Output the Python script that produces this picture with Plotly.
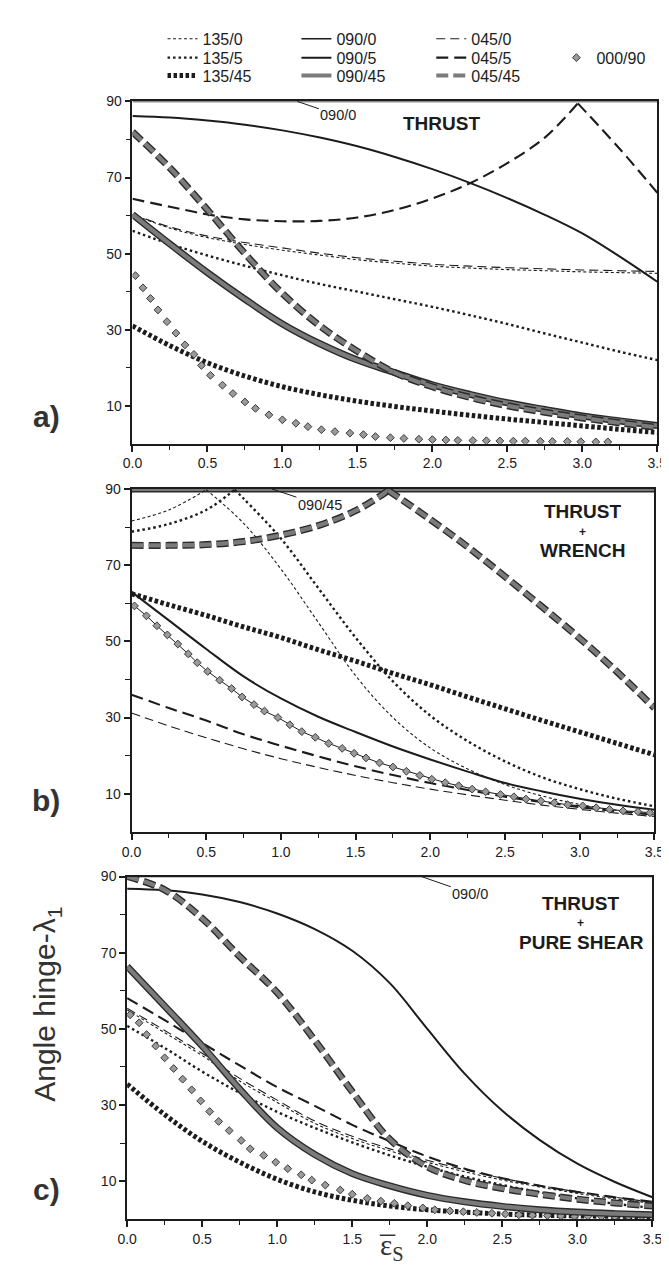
import plotly.graph_objects as go

W, H = 669, 1265
DARK = '#1c1c1c'
GRAY = '#7b7b7b'
FONT = 'Liberation Sans, Arial, sans-serif'

# ---------------- data ----------------
X = [0.0, 0.25, 0.5, 0.75, 1.0, 1.25, 1.5, 1.75, 2.0, 2.25, 2.5, 2.75, 3.0, 3.25, 3.5]
X_ENDS = [0.0, 3.5]
TOP = [90, 90]

# panel a) THRUST
A_135_0 = [60.3, 56.7, 54.2, 52.4, 50.9, 49.6, 48.4, 47.5, 46.7, 46.2, 45.8, 45.5, 45.2, 45.0, 44.8]
A_135_5 = [56, 52.5, 49.5, 46.8, 44.3, 42, 40, 38, 36, 33.8, 31.5, 29, 26.6, 24.2, 22]
A_135_45 = [31, 25.8, 21.3, 17.8, 15, 12.9, 11.2, 9.8, 8.6, 7.5, 6.5, 5.6, 4.7, 3.8, 3.0]
A_090_5 = [86.2, 85.8, 85, 83.9, 82.4, 80.5, 78.2, 75.4, 72.2, 68.6, 64.6, 60.2, 55.3, 49.2, 42.6]
A_090_45 = [60.3, 52.5, 45, 38, 31.5, 26.3, 22, 18.7, 15.5, 13, 10.8, 9, 7.3, 6, 4.8]
A_045_0 = [60.3, 57, 54.6, 52.9, 51.5, 50.1, 48.9, 48, 47.2, 46.7, 46.3, 46, 45.7, 45.5, 45.3]
A_045_5_X = [0.0, 0.25, 0.5, 0.75, 1.0, 1.25, 1.5, 1.75, 2.0, 2.25, 2.5, 2.75, 2.97, 3.25, 3.5]
A_045_5 = [64.4, 62.3, 60.3, 59, 58.5, 58.6, 59.5, 61.5, 64.5, 68.5, 73.8, 80.5, 89.5, 77.5, 66]
A_045_5_PEAK = 12
A_045_45 = [82, 72.5, 61.5, 50, 39.5, 31, 24.3, 18.7, 15, 12.2, 10, 8.3, 6.8, 5.5, 4.3]
A_000_90_X = [0.02, 0.07, 0.12, 0.17, 0.23, 0.29, 0.35, 0.41, 0.46, 0.52, 0.6, 0.67, 0.75, 0.82,
              0.91, 1.0, 1.09, 1.17, 1.26, 1.35, 1.45, 1.54, 1.62, 1.72, 1.81, 1.91, 2.0, 2.09,
              2.17, 2.27, 2.36, 2.45, 2.54, 2.62, 2.72, 2.8, 2.9, 2.99, 3.09, 3.17]
A_000_90_Y = [44.2, 41, 38.2, 35.2, 32.1, 29.1, 26, 23.5, 20.6, 18, 15.4, 13.2, 11, 9.3,
              7.6, 6.3, 5.4, 4.5, 3.7, 3.2, 2.8, 2.4, 1.9, 1.6, 1.4, 1.2, 1.1, 1.0,
              0.9, 0.85, 0.8, 0.75, 0.7, 0.7, 0.65, 0.6, 0.6, 0.55, 0.5, 0.5]

# panel b) THRUST + WRENCH
B_135_0 = [81.6, 84.5, 89.8, 81, 69, 55, 41, 30, 22, 16.5, 12.4, 9.4, 7.2, 5.6, 4.4]
B_135_0_PEAK = 2
B_135_5_X = [0.0, 0.25, 0.5, 0.69, 0.75, 1.0, 1.25, 1.5, 1.75, 2.0, 2.25, 2.5, 2.75, 3.0, 3.25, 3.5]
B_135_5 = [78.8, 80.8, 84.5, 89.8, 87.5, 77, 64, 51, 39.5, 30.5, 23.8, 18.5, 14.3, 11.2, 8.7, 6.7]
B_135_5_PEAK = 3
B_135_45 = [62.5, 59.6, 56.8, 53.8, 51, 47.8, 44.8, 41.6, 38.6, 35.4, 32.3, 29.2, 26.2, 23.2, 20.2]
B_090_5 = [63, 55.5, 48, 40.8, 35, 30.2, 26.2, 22.4, 19, 15.8, 12.8, 10.6, 8.7, 7.1, 5.8]
B_045_0 = [31.2, 27.8, 24.7, 21.8, 19.2, 16.9, 14.8, 12.9, 11.2, 9.7, 8.3, 7.0, 5.9, 4.9, 4.0]
B_045_5 = [36, 32.5, 29.2, 25.6, 22.6, 19.8, 17.2, 14.9, 12.8, 11, 9.2, 7.8, 6.5, 5.4, 4.5]
B_045_45_X = [0.0, 0.25, 0.5, 0.75, 1.0, 1.25, 1.5, 1.72, 2.0, 2.25, 2.5, 2.75, 3.0, 3.25, 3.5]
B_045_45 = [75.2, 75.2, 75.4, 76.2, 77.9, 80.4, 84.3, 89.6, 82, 74.8, 67, 59, 50.8, 42, 32.5]
B_045_45_PEAK = 7
B_000_90_X = [0.02, 0.1, 0.17, 0.24, 0.31, 0.38, 0.44, 0.51, 0.59, 0.67, 0.74, 0.82, 0.89, 0.98,
              1.06, 1.14, 1.23, 1.32, 1.41, 1.49, 1.57, 1.66, 1.75, 1.84, 1.93, 2.01, 2.1, 2.19,
              2.28, 2.37, 2.47, 2.56, 2.64, 2.74, 2.83, 2.92, 3.02, 3.11, 3.2, 3.29, 3.39, 3.47]
B_000_90_Y = [59.3, 56.7, 54.1, 51.7, 49.3, 46.7, 44.4, 42.1, 39.8, 37.6, 35.4, 33.4, 31.7, 30,
              28.1, 26.3, 24.8, 23.2, 21.9, 20.6, 19.4, 18.1, 17, 15.9, 14.8, 13.8, 12.9, 12.1,
              11.2, 10.5, 9.8, 9.2, 8.6, 8.1, 7.6, 7.1, 6.8, 6.3, 5.9, 5.5, 5.3, 5.0]

# panel c) THRUST + PURE SHEAR
C_135_0 = [55, 49, 43, 36.3, 30.7, 25.2, 21.2, 18, 15, 12.5, 10.3, 8.5, 6.8, 5.4, 4.2]
C_135_5 = [50.8, 45, 38.8, 33.2, 28.2, 24, 20.2, 16.8, 13.8, 11.2, 9, 7.1, 5.5, 4.1, 3.0]
C_135_45 = [35.5, 27.5, 20.5, 15, 10.5, 7.2, 5.0, 3.5, 2.5, 1.9, 1.4, 1.1, 0.9, 0.8, 0.7]
C_090_5 = [86.8, 86.4, 85.3, 83.3, 80.3, 76.2, 70.5, 62, 50, 38.2, 28.5, 20.8, 14.6, 9.8, 5.8]
C_090_45 = [66.4, 56, 45.5, 34.2, 24, 17, 12, 8.8, 6.3, 4.6, 3.4, 2.5, 1.9, 1.5, 1.2]
C_045_0 = [55.4, 49.6, 43.6, 37, 31.3, 25.8, 21.8, 18.5, 15.5, 13, 10.8, 8.9, 7.2, 5.8, 4.5]
C_045_5 = [58.1, 52.3, 46.3, 40.4, 34.7, 29.8, 24.8, 20.5, 16.5, 13.3, 10.8, 8.8, 7.2, 5.8, 4.6]
C_045_45 = [90, 86.5, 79, 69, 59.5, 47, 33.5, 21, 13.8, 10.2, 8.1, 6.6, 5.3, 4.3, 3.5]
C_000_90_X = [0.02, 0.08, 0.13, 0.19, 0.25, 0.31, 0.37, 0.43, 0.49, 0.55, 0.61, 0.68, 0.76, 0.82,
              0.91, 0.99, 1.07, 1.16, 1.23, 1.32, 1.42, 1.5, 1.6, 1.69, 1.78, 1.87, 1.97, 2.05,
              2.15, 2.24, 2.33, 2.43, 2.52, 2.61, 2.7, 2.8, 2.89, 2.98, 3.07, 3.16, 3.25, 3.34, 3.43]
C_000_90_Y = [53.7, 51.6, 48.5, 45.5, 42.4, 39.6, 36.8, 34, 31.1, 28.3, 25.7, 23.3, 20.7, 18.5,
              16.8, 15, 13.3, 11.7, 10.3, 9, 7.7, 6.6, 5.5, 4.8, 4.2, 3.6, 3.0, 2.5,
              2.2, 2.0, 1.8, 1.6, 1.4, 1.2, 1.1, 1.0, 0.9, 0.8, 0.8, 0.7, 0.7, 0.7, 0.7]

X_TICKS = [0.0, 0.5, 1.0, 1.5, 2.0, 2.5, 3.0, 3.5]
Y_TICKS = [10, 30, 50, 70, 90]
Y_MINOR = [20, 40, 60, 80]

# ---------------- styles ----------------
LINE = {
    '135/0': dict(color=DARK, width=1.1, dash='3px,2.5px'),
    '135/5': dict(color=DARK, width=2.4, dash='2.5px,3px'),
    '135/45': dict(color=DARK, width=5, dash='3.5px,2.5px'),
    '090/0': dict(color=DARK, width=1.4, dash='solid'),
    '090/5': dict(color=DARK, width=2.0, dash='solid'),
    '045/0': dict(color=DARK, width=1.1, dash='9px,5px'),
    '045/5': dict(color=DARK, width=2.1, dash='12px,6px'),
}
GRAY_DASH = {'090/45': 'solid', '045/45': '12px,5px'}
LEGEND_OF = {'135/0': 'legend', '135/5': 'legend2', '135/45': 'legend3',
             '090/0': 'legend4', '090/5': 'legend5', '090/45': 'legend6',
             '045/0': 'legend7', '045/5': 'legend8', '045/45': 'legend9',
             '000/90': 'legend10'}
LEGEND_CELL = {'135/0': (0, 0), '135/5': (0, 1), '135/45': (0, 2),
               '090/0': (1, 0), '090/5': (1, 1), '090/45': (1, 2),
               '045/0': (2, 0), '045/5': (2, 1), '045/45': (2, 2),
               '000/90': (3, 1)}
COL_TEXT_PX = [202, 340, 479, 608]
ROW_PX = [23, 42, 60]
AXES = {'a': ('x', 'y'), 'b': ('x2', 'y2'), 'c': ('x3', 'y3')}

fig = go.Figure()


def add_series(panel, name, xs, ys, legend_entry):
    xa, ya = AXES[panel]
    common = dict(x=xs, y=ys, mode='lines', xaxis=xa, yaxis=ya, legendgroup=name,
                  line_shape='spline', hoverinfo='skip')
    if name in GRAY_DASH:
        dash = GRAY_DASH[name]
        fig.add_trace(go.Scatter(**common, line=dict(color='#2b2b2b', width=7, dash=dash),
                                 showlegend=False))
        fig.add_trace(go.Scatter(**common, line=dict(color=GRAY, width=4.2, dash=dash),
                                 name=name, showlegend=legend_entry, legend=LEGEND_OF[name]))
    else:
        fig.add_trace(go.Scatter(**common, line=LINE[name], name=name,
                                 showlegend=legend_entry, legend=LEGEND_OF[name]))


def add_peaked(panel, name, xs, ys, k, legend_entry):
    add_series(panel, name, xs[:k + 1], ys[:k + 1], legend_entry)
    add_series(panel, name, xs[k:], ys[k:], False)


def add_markers(panel, xs, ys, with_line, legend_entry):
    xa, ya = AXES[panel]
    fig.add_trace(go.Scatter(
        x=xs, y=ys, mode='lines+markers' if with_line else 'markers', xaxis=xa, yaxis=ya,
        marker=dict(symbol='diamond', size=6, color='#9a9a9a', line=dict(color='#3a3a3a', width=1)),
        line=dict(color=DARK, width=1), name='000/90', legendgroup='000/90',
        showlegend=legend_entry, legend=LEGEND_OF['000/90'], hoverinfo='skip'))


# panel a
add_series('a', '090/0', X_ENDS, TOP, True)
add_series('a', '135/0', X, A_135_0, True)
add_series('a', '045/0', X, A_045_0, True)
add_series('a', '135/5', X, A_135_5, True)
add_series('a', '090/5', X, A_090_5, True)
add_peaked('a', '045/5', A_045_5_X, A_045_5, A_045_5_PEAK, True)
add_series('a', '135/45', X, A_135_45, True)
add_series('a', '090/45', X, A_090_45, True)
add_series('a', '045/45', X, A_045_45, True)
add_markers('a', A_000_90_X, A_000_90_Y, False, True)

# panel b
add_series('b', '090/0', X_ENDS, TOP, False)
add_series('b', '090/45', X_ENDS, TOP, False)
add_peaked('b', '135/0', X, B_135_0, B_135_0_PEAK, False)
add_peaked('b', '135/5', B_135_5_X, B_135_5, B_135_5_PEAK, False)
add_series('b', '135/45', X, B_135_45, False)
add_series('b', '045/0', X, B_045_0, False)
add_series('b', '045/5', X, B_045_5, False)
add_series('b', '090/5', X, B_090_5, False)
add_markers('b', B_000_90_X, B_000_90_Y, True, False)
add_peaked('b', '045/45', B_045_45_X, B_045_45, B_045_45_PEAK, False)

# panel c
add_series('c', '090/0', X_ENDS, TOP, False)
add_series('c', '090/5', X, C_090_5, False)
add_series('c', '135/0', X, C_135_0, False)
add_series('c', '045/0', X, C_045_0, False)
add_series('c', '135/5', X, C_135_5, False)
add_series('c', '045/5', X, C_045_5, False)
add_series('c', '135/45', X, C_135_45, False)
add_markers('c', C_000_90_X, C_000_90_Y, False, False)
add_series('c', '090/45', X, C_090_45, False)
add_series('c', '045/45', X, C_045_45, False)

# ---------------- layout ----------------
# panel frames in pixels: (left, right, top(y=90), bottom(y=0))
FRAMES = {'a': (118, 659, 86, 430.5), 'b': (117, 656, 476, 821), 'c': (112.5, 654, 866, 1211)}


def axis_pair(frame):
    l, r, t, b = frame
    xa = dict(domain=[l / W, r / W], range=[0, 3.5], tickmode='array', tickvals=X_TICKS,
              tickformat='.1f', ticks='outside', ticklen=6, tickwidth=1.5, tickcolor=DARK,
              minor=dict(dtick=0.25, tick0=0, ticks='outside', ticklen=4, tickwidth=1.3, tickcolor=DARK),
              showline=True, linewidth=1.8, linecolor=DARK, mirror=True, showgrid=False,
              zeroline=False, tickfont=dict(family=FONT, size=14, color=DARK), fixedrange=True)
    ya = dict(domain=[1 - b / H, 1 - t / H], range=[0, 90], tickmode='array', tickvals=Y_TICKS,
              ticks='outside', ticklen=6, tickwidth=1.5, tickcolor=DARK,
              minor=dict(tickmode='array', tickvals=Y_MINOR, ticks='outside', ticklen=5,
                         tickwidth=1.3, tickcolor=DARK),
              showline=True, linewidth=1.8, linecolor=DARK, mirror=True, showgrid=False,
              zeroline=False, tickfont=dict(family=FONT, size=14, color=DARK), fixedrange=True)
    return xa, ya


layout = dict(width=W, height=H, margin=dict(l=0, r=0, t=0, b=0),
              paper_bgcolor='white', plot_bgcolor='white', hovermode=False)
for key, suffix in (('a', ''), ('b', '2'), ('c', '3')):
    xa, ya = axis_pair(FRAMES[key])
    xa['anchor'] = 'y' + suffix
    ya['anchor'] = 'x' + suffix
    layout['xaxis' + suffix] = xa
    layout['yaxis' + suffix] = ya

for name, leg in LEGEND_OF.items():
    col, row = LEGEND_CELL[name]
    layout[leg] = dict(x=(COL_TEXT_PX[col] - 53) / W, y=1 - ROW_PX[row] / H,
                       xanchor='left', yanchor='middle', bgcolor='rgba(0,0,0,0)',
                       borderwidth=0, font=dict(family=FONT, size=16, color=DARK),
                       itemclick=False, itemdoubleclick=False, tracegroupgap=0)

fig.update_layout(**layout)


def px_ann(text, px, py, size, bold=False, family=FONT, color=DARK, yanchor='middle', **kw):
    fig.add_annotation(text=('<b>%s</b>' % text) if bold else text, x=px / W, y=1 - py / H,
                       xref='paper', yref='paper', xanchor='center', yanchor=yanchor,
                       showarrow=False, font=dict(family=family, size=size, color=color), **kw)


px_ann('THRUST', 437, 108, 19, bold=True)
px_ann('THRUST', 582, 499, 19, bold=True)
px_ann('+', 582, 519, 12, bold=True)
px_ann('WRENCH', 582, 538, 19, bold=True)
px_ann('THRUST', 580, 893, 19, bold=True)
px_ann('+', 580, 913, 12, bold=True)
px_ann('PURE SHEAR', 581, 932, 19, bold=True)

px_ann('a)', 29, 403, 30, bold=True, color='#333333')
px_ann('b)', 29, 789, 30, bold=True, color='#333333')
px_ann('c)', 29, 1181, 30, bold=True, color='#333333')

px_ann('Angle hinge-λ<sub>1</sub>', 30, 995, 30, color='#333333', textangle=-90)
px_ann('ε<sub>S</sub>', 385, 1239, 29, family='Liberation Serif, serif', color='#333333')
# overbar of the x-axis symbol
fig.add_shape(type='line', xref='paper', yref='paper', x0=373 / W, x1=389 / W,
              y0=1 - 1227 / H, y1=1 - 1227 / H, line=dict(color='#333333', width=1.5))

for xref, yref, xv, text, ax, ay in (('x', 'y', 1.1, '090/0', 41, 14),
                                     ('x2', 'y2', 0.94, '090/45', 48, 16),
                                     ('x3', 'y3', 1.96, '090/0', 49, 17)):
    fig.add_annotation(x=xv, y=90, xref=xref, yref=yref, text=text, showarrow=True,
                       arrowhead=0, arrowwidth=1, arrowcolor=DARK, ax=ax, ay=ay, standoff=0,
                       font=dict(family=FONT, size=14.5, color=DARK))

fig.write_html('out.html')
